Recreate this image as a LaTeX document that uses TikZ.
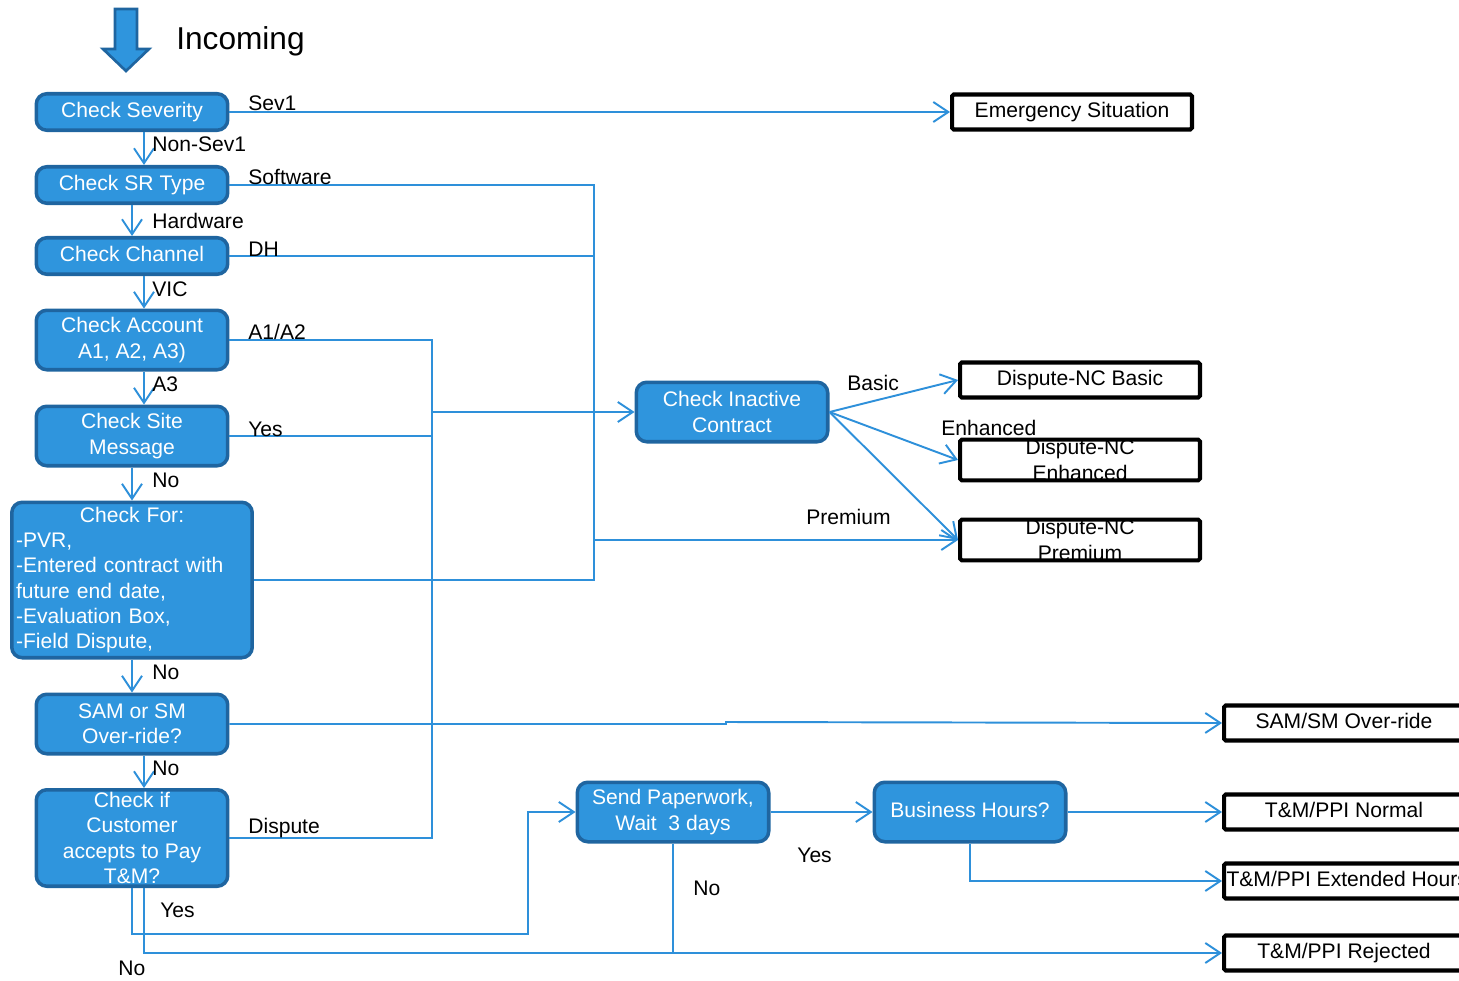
\documentclass[tikz,border=0pt]{standalone}
\usepackage{fontspec}
\setmainfont{Liberation Sans}
\usetikzlibrary{arrows.meta,positioning,calc}
\definecolor{boxblue}{HTML}{2F95DD}
\definecolor{boxedge}{HTML}{1F65A0}
\definecolor{wire}{HTML}{2E90DA}

\begin{document}
\begin{tikzpicture}[x=0.02cm, y=-0.02cm, font=\fontsize{12}{14.4}\selectfont,
  >={Straight Barb[length=3mm,width=4mm]},
  dec/.style={draw=boxedge, line width=2pt, fill=boxblue, rounded corners=6pt, text=white,
    align=center, inner sep=0pt, minimum width=3.83cm, minimum height=0.73cm},
  tall/.style={minimum height=1.19cm},
  outc/.style={draw=black, line width=2.3pt, fill=white, rounded corners=1pt, align=center,
    inner sep=0pt, minimum width=4.8cm, minimum height=0.7cm},
  ln/.style={draw=wire, line width=1.1pt},
  lbl/.style={anchor=base west, inner sep=0pt}]
\useasboundingbox (0,0) rectangle (1459,980);
\clip (0,0) rectangle (1459,980);

% incoming
\draw[fill=boxblue, draw=boxedge, line width=1.5pt] (115,9) -- (137,9) -- (137,49) -- (149,49)
  -- (126,71) -- (103,49) -- (115,49) -- cycle;
\node[anchor=west, font=\fontsize{18}{20}\selectfont, inner sep=0pt] (inc) at (176,41) {Incoming};

% left column
\node[dec] (sev) at (132,112) {\strut Check Severity};
\node[dec] (srt) at (132,185) {\strut Check SR Type};
\node[dec] (chn) at (132,256) {\strut Check Channel};
\node[dec, tall] (acct) at (132,340) {Check Account\\A1, A2, A3)};
\node[dec, tall] (site) at (132,436) {Check Site\\Message};
\node[dec, minimum width=4.81cm, minimum height=3.11cm, text width=4.64cm, align=left] (chk) at (132,580)
  {\centering Check For:\par\raggedright -PVR,\\-Entered contract with\\future end date,\\-Evaluation Box,\\-Field Dispute,};
\node[dec, tall] (sam) at (132,724) {SAM or SM\\Over-ride?};
\node[dec, minimum height=1.93cm] (pay) at (132,838) {Check if\\Customer\\accepts to Pay\\T\&M?};

% middle
\node[dec, tall] (inact) at (732,412) {Check Inactive\\Contract};
\node[dec, tall] (paper) at (673,812) {Send Paperwork,\\Wait\ \ 3 days};
\node[dec, tall] (bhrs) at (970,812) {\strut Business Hours?};

% outcomes
\node[outc] (emg) at (1072,112) {\strut Emergency Situation};
\node[outc] (ncb) at (1080,380) {\strut Dispute-NC Basic};
\node[outc] (nce) at (1080,460) {Dispute-NC\\Enhanced};
\node[outc] (ncp) at (1080,540) {Dispute-NC\\Premium};
\node[outc] (ovr) at (1344,723) {\strut SAM/SM Over-ride};
\node[outc] (tmn) at (1344,812) {\strut T\&M/PPI Normal};
\node[outc] (tme) at (1344,881) {\strut\makebox[4.7cm][l]{T\&M/PPI Extended Hours}};
\node[outc] (tmr) at (1344,953) {\strut T\&M/PPI Rejected};

\coordinate (jS) at (594,540);
\coordinate (jA) at (432,412);

% down the left column
\draw[ln,->] ([xshift=0.24cm]sev.south) -- ([xshift=0.24cm]srt.north);
\draw[ln,->] (srt.south) -- (chn.north);
\draw[ln,->] ([xshift=0.24cm]chn.south) -- ([xshift=0.24cm]acct.north);
\draw[ln,->] ([xshift=0.24cm]acct.south) -- ([xshift=0.24cm]site.north);
\draw[ln,->] (site.south) -- (chk.north);
\draw[ln,->] (chk.south) -- (sam.north);
\draw[ln,->] ([xshift=0.24cm]sam.south) -- ([xshift=0.24cm]pay.north);

% branches to the right
\draw[ln,->] (sev.east) -- (emg.west);
\draw[ln,->] (srt.east) -| (jS) -- (ncp.west);
\draw[ln] (chn.east) -- (chn.east -| jS);
\draw[ln] (chk.east) -| (jS);
\draw[ln] (acct.east) -| (jA);
\draw[ln] (site.east) -- (site.east -| jA);
\draw[ln] (pay.east) -| (jA);
\draw[ln,->] (jA) -- (inact.west);
\draw[ln,->] (inact.east) -- (ncb.west);
\draw[ln,->] (inact.east) -- (nce.west);
\draw[ln,->] (inact.east) -- (ncp.west);
\draw[ln,->] (sam.east) -- (726,724) -- (726,722) -- (ovr.west);

% T&M part
\draw[ln,->] (pay.south) |- (528,934) |- (paper.west);
\draw[ln,->] ([xshift=0.24cm]pay.south) |- (tmr.west);
\draw[ln] (paper.south) -- (paper.south |- tmr.west);
\draw[ln,->] (paper.east) -- (bhrs.west);
\draw[ln,->] (bhrs.east) -- (tmn.west);
\draw[ln,->] (bhrs.south) |- (tme.west);

% labels
\node[lbl] (lsev) at (248,111) {Sev1};
\node[lbl] (lnsev) at (152,151) {Non-Sev1};
\node[lbl] (lsw) at (248,184) {Software};
\node[lbl] (lhw) at (152,228) {Hardware};
\node[lbl] (ldh) at (248,256) {DH};
\node[lbl] (lvic) at (152,296) {VIC};
\node[lbl] (la12) at (248,339) {A1/A2};
\node[lbl] (la3) at (152,391) {A3};
\node[lbl] (lyes1) at (248,436) {Yes};
\node[lbl] (lno1) at (152,487) {No};
\node[lbl] (lno2) at (152,679) {No};
\node[lbl] (lno3) at (152,775) {No};
\node[lbl] (ldsp) at (248,833) {Dispute};
\node[lbl] (lyes2) at (160,917) {Yes};
\node[lbl] (lno4) at (118,975) {No};
\node[lbl] (lno5) at (693,895) {No};
\node[lbl] (lyes3) at (797,862) {Yes};
\node[lbl] (lbas) at (847,390) {Basic};
\node[lbl] (lenh) at (941,435) {Enhanced};
\node[lbl] (lprem) at (806,524) {Premium};
\end{tikzpicture}
\end{document}
